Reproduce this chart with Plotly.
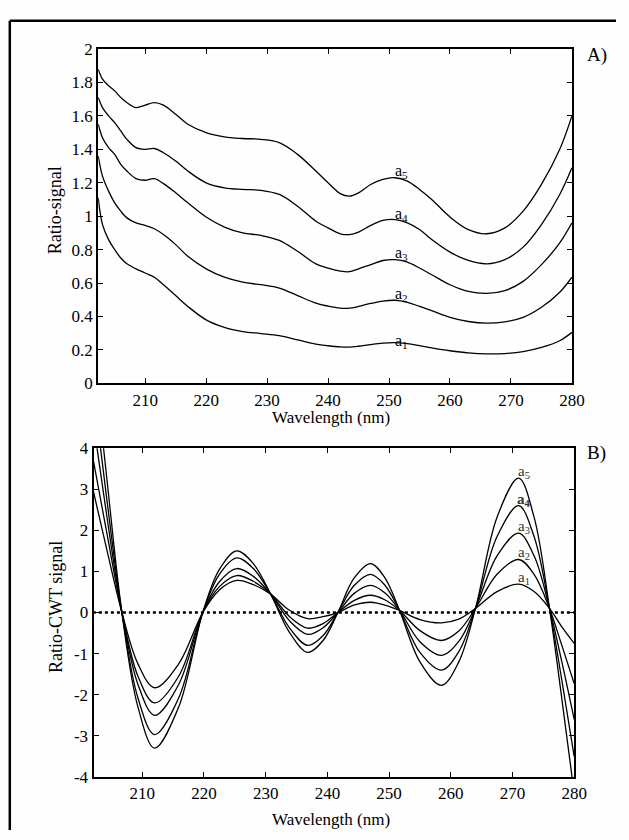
import plotly.graph_objects as go

# ---------------- Panel A data (Ratio-signal) ----------------
wl_a = [202.3, 203, 204, 205, 206, 207, 208.5, 210, 211.5, 213, 215, 217, 220, 223, 226, 229,
        232, 235, 238, 240, 242, 243.5, 245, 247, 249, 251, 253, 255, 257, 260, 263, 266,
        269, 272, 275, 278, 280]
ratio_a1 = [1.11, 0.95, 0.86, 0.80, 0.75, 0.715, 0.685, 0.66, 0.635, 0.59, 0.525, 0.46, 0.38, 0.335,
            0.31, 0.298, 0.285, 0.26, 0.235, 0.225, 0.218, 0.217, 0.222, 0.232, 0.24, 0.243, 0.237,
            0.225, 0.212, 0.195, 0.182, 0.176, 0.178, 0.19, 0.215, 0.255, 0.305]
ratio_a2 = [1.36, 1.24, 1.15, 1.08, 1.03, 0.99, 0.96, 0.945, 0.925, 0.89, 0.83, 0.76, 0.685, 0.635,
            0.605, 0.59, 0.57, 0.525, 0.48, 0.462, 0.45, 0.45, 0.46, 0.478, 0.492, 0.497, 0.485,
            0.46, 0.435, 0.395, 0.37, 0.36, 0.368, 0.395, 0.455, 0.545, 0.635]
ratio_a3 = [1.55, 1.47, 1.41, 1.37, 1.31, 1.27, 1.225, 1.215, 1.225, 1.195, 1.14, 1.08, 0.995, 0.935,
            0.9, 0.885, 0.855, 0.79, 0.715, 0.69, 0.672, 0.668, 0.685, 0.71, 0.735, 0.74, 0.725,
            0.69, 0.65, 0.59, 0.55, 0.538, 0.555, 0.61, 0.71, 0.84, 0.96]
ratio_a4 = [1.71, 1.65, 1.60, 1.56, 1.51, 1.46, 1.41, 1.40, 1.405, 1.38, 1.33, 1.27, 1.20, 1.17,
            1.16, 1.155, 1.13, 1.06, 0.97, 0.93, 0.895, 0.89, 0.905, 0.945, 0.975, 0.98, 0.96,
            0.92, 0.86, 0.785, 0.735, 0.715, 0.74, 0.815, 0.95, 1.13, 1.29]
ratio_a5 = [1.88, 1.82, 1.78, 1.75, 1.71, 1.68, 1.65, 1.665, 1.68, 1.665, 1.61, 1.55, 1.50, 1.475,
            1.465, 1.46, 1.44, 1.37, 1.27, 1.20, 1.135, 1.12, 1.14, 1.19, 1.22, 1.23, 1.21,
            1.16, 1.10, 0.995, 0.92, 0.895, 0.93, 1.03, 1.19, 1.40, 1.60]

# ---------------- Panel B data (Ratio-CWT signal) ----------------
wl_b = [202, 204.3, 206.7, 209.3, 212, 215.9, 219.8, 222.5, 225.3, 228, 230.8, 233.8, 236.8,
        239.3, 241.7, 244.3, 247, 249.3, 251.7, 255, 258.5, 261.3, 264, 267.5, 271, 273.5,
        276, 278, 280]
cwt_a1 = [3.0, 1.5, 0, -1.25, -1.83, -1.25, 0, 0.55, 0.78, 0.68, 0.45, 0.06, -0.15, -0.1, 0,
          0.18, 0.25, 0.18, 0.05, -0.17, -0.25, -0.16, 0.1, 0.51, 0.69, 0.51, 0.1, -0.35, -0.75]
cwt_a2 = [3.76, 1.9, 0, -1.55, -2.2, -1.55, 0, 0.63, 0.9, 0.76, 0.45, -0.09, -0.38, -0.27, 0,
          0.29, 0.42, 0.31, 0.05, -0.44, -0.68, -0.45, 0.1, 0.93, 1.29, 0.93, 0.1, -0.8, -1.73]
cwt_a3 = [4.7, 2.3, 0, -1.75, -2.5, -1.75, 0, 0.75, 1.07, 0.88, 0.45, -0.19, -0.53, -0.37, 0,
          0.46, 0.66, 0.48, 0.05, -0.71, -1.04, -0.7, 0.1, 1.38, 1.93, 1.38, 0.1, -1.2, -2.6]
cwt_a4 = [5.5, 2.7, 0, -2.08, -2.97, -2.08, 0, 0.93, 1.33, 1.07, 0.45, -0.36, -0.8, -0.56, 0,
          0.65, 0.93, 0.67, 0.05, -0.97, -1.4, -0.95, 0.1, 1.85, 2.6, 1.85, 0.1, -1.65, -3.5]
cwt_a5 = [6.4, 3.2, 0, -2.3, -3.3, -2.3, 0, 1.05, 1.5, 1.19, 0.45, -0.47, -0.97, -0.68, 0,
          0.83, 1.19, 0.85, 0.05, -1.2, -1.77, -1.2, 0.1, 2.32, 3.27, 2.32, 0.1, -2.1, -4.4]

zero_x = [202, 280]
zero_y = [0, 0]

x_ticks = [210, 220, 230, 240, 250, 260, 270, 280]
ya_ticks = [0, 0.2, 0.4, 0.6, 0.8, 1, 1.2, 1.4, 1.6, 1.8, 2]
yb_ticks = [-4, -3, -2, -1, 0, 1, 2, 3, 4]
yb_ticktext = ["-4", "-3", "-2", "-1", "0", "1", "2", "3", "4"]

series_names = ["a1", "a2", "a3", "a4", "a5"]

FONT = "Liberation Serif"
W, H = 629, 840
BG = "#fefefe"

fig = go.Figure()
for name, ys in zip(series_names, [ratio_a1, ratio_a2, ratio_a3, ratio_a4, ratio_a5]):
    fig.add_trace(go.Scatter(x=wl_a, y=ys, mode="lines", name=name, showlegend=False,
                             line=dict(color="black", width=1.3, shape="spline", smoothing=1.0),
                             xaxis="x", yaxis="y"))

fig.add_trace(go.Scatter(x=zero_x, y=zero_y, mode="lines", showlegend=False,
                         line=dict(color="black", width=2.6, dash="dot"),
                         xaxis="x2", yaxis="y2"))
for name, ys in zip(series_names, [cwt_a1, cwt_a2, cwt_a3, cwt_a4, cwt_a5]):
    fig.add_trace(go.Scatter(x=wl_b, y=ys, mode="lines", name=name, showlegend=False,
                             line=dict(color="black", width=1.3, shape="spline", smoothing=1.0),
                             xaxis="x2", yaxis="y2"))

axis_common = dict(showgrid=False, zeroline=False, showline=True, linecolor="black", linewidth=2,
                   mirror="ticks", ticks="inside", ticklen=5, tickwidth=1, tickcolor="black",
                   tickfont=dict(family=FONT, size=17, color="black"))

fig.update_layout(
    width=W, height=H, autosize=False,
    margin=dict(l=0, r=0, t=0, b=0),
    paper_bgcolor=BG, plot_bgcolor=BG,
    font=dict(family=FONT, size=17, color="black"),
    xaxis=dict(domain=[100.3 / W, 584 / W], range=[202.3, 280], tickvals=x_ticks,
               anchor="y", **axis_common),
    yaxis=dict(domain=[1 - 383 / H, 1 - 41 / H], range=[0, 2], tickvals=ya_ticks,
               anchor="x", **axis_common),
    xaxis2=dict(domain=[95.5 / W, 586.3 / W], range=[202.1, 280], tickvals=x_ticks,
                anchor="y2", **axis_common),
    yaxis2=dict(domain=[1 - 785.7 / H, 1 - 449.3 / H], range=[-4, 4], tickvals=yb_ticks,
                ticktext=yb_ticktext, anchor="x2", **axis_common),
)

def ann(text, x, y, size=17, xref="paper", yref="paper", textangle=0, xanchor="center",
        yanchor="middle", color="black"):
    fig.add_annotation(text=text, x=x, y=y, xref=xref, yref=yref, showarrow=False,
                       textangle=textangle, xanchor=xanchor, yanchor=yanchor,
                       font=dict(family=FONT, size=size, color=color))

# axis titles
ann("Wavelength (nm)", 338 / W, 1 - 418 / H)
ann("Wavelength (nm)", 338 / W, 1 - 829 / H)
ann("Ratio-signal", 56 / W, 1 - 206 / H, size=18, textangle=-90)
ann("Ratio-CWT signal", 57 / W, 1 - 612 / H, size=18, textangle=-90)
# panel letters
ann("A)", 597 / W, 1 - 47 / H, size=19, xanchor="left")
ann("B)", 597 / W, 1 - 454 / H, size=19, xanchor="left")

# curve labels panel A
for i, yy in enumerate([0.25, 0.53, 0.775, 1.01, 1.27]):
    fig.add_annotation(text=f"a<sub>{i+1}</sub>", x=252, y=yy, xref="x", yref="y",
                       showarrow=False, yanchor="middle",
                       font=dict(family=FONT, size=16, color="black"))
# curve labels panel B
for i, yy in enumerate([0.84, 1.44, 2.08, 2.75, 3.42]):
    txt = f"a<sub>{i+1}</sub>"
    if i == 3:
        txt = f"<b>{txt}</b>"
    fig.add_annotation(text=txt, x=271.8, y=yy, xref="x2", yref="y2",
                       showarrow=False, yanchor="middle",
                       font=dict(family=FONT, size=15, color="#333333"))

# outer frame (only top and left edges visible in the crop)
fig.add_shape(type="line", xref="paper", yref="paper", x0=10 / W, x1=1.0, y0=1 - 12 / H, y1=1 - 12 / H,
              line=dict(color="black", width=2.5))
fig.add_shape(type="line", xref="paper", yref="paper", x0=10 / W, x1=10 / W, y0=0, y1=1 - 12 / H,
              line=dict(color="black", width=2.5))

fig.write_html("out.html")
